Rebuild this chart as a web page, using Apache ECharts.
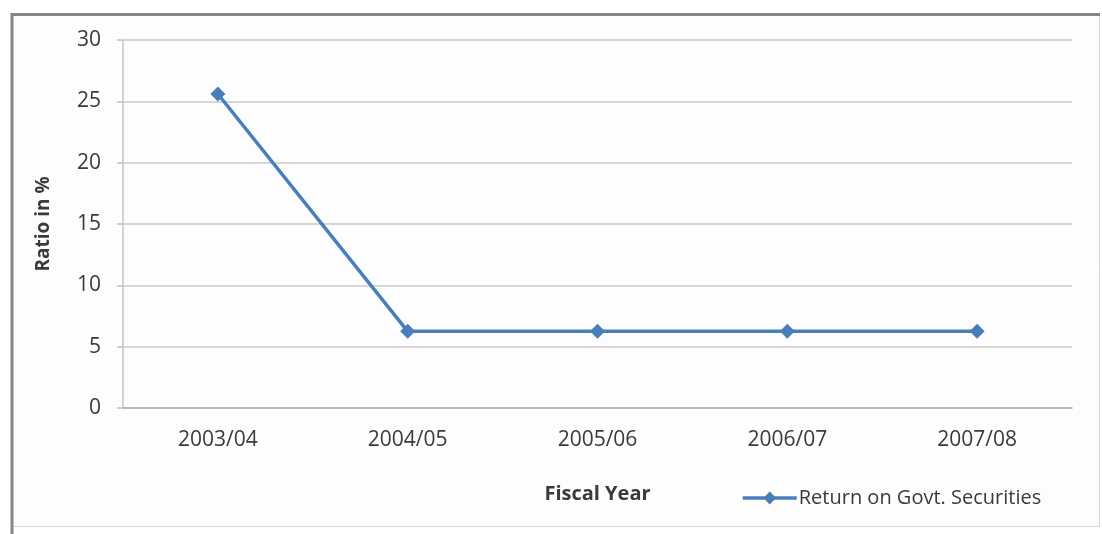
<!DOCTYPE html>
<html>
<head>
<meta charset="utf-8">
<title>Return on Govt. Securities</title>
<script src="https://cdn.jsdelivr.net/npm/echarts@6/dist/echarts.min.js"></script>
<style>
  html, body { margin: 0; padding: 0; background: #ffffff; }
  #chart { width: 1102px; height: 534px; }
</style>
</head>
<body>
<div id="chart"></div>
<script>
// Fiscal years on the category axis
const fiscalYears = ['2003/04', '2004/05', '2005/06', '2006/07', '2007/08'];
// Return on government securities, ratio in %
const returnOnGovtSecurities = [25.6, 6.25, 6.25, 6.25, 6.25];
// Value axis ticks
const yTicks = [0, 5, 10, 15, 20, 25, 30];

const textColor = '#3a3a3a';
const lineColor = '#4a7ebb';
const fontFamily = '"Open Sans", "Noto Sans", sans-serif';

const chart = echarts.init(document.getElementById('chart'), null, { renderer: 'canvas' });

chart.setOption({
  animation: false,
  backgroundColor: '#ffffff',
  textStyle: { fontFamily: fontFamily, color: textColor },
  graphic: [
    // chart frame: light outline with darker top and left edges
    {
      type: 'rect', z: -10,
      shape: { x: 12.5, y: 14.5, width: 1087, height: 512 },
      style: { fill: '#fdfdfd', stroke: '#d4d4d4', lineWidth: 1 }
    },
    {
      type: 'polyline', z: -9,
      shape: { points: [[12, 534], [12, 14.5], [1100, 14.5]] },
      style: { fill: null, stroke: '#858585', lineWidth: 3 }
    }
  ],
  grid: {
    left: 123,
    right: 30,
    top: 40,
    bottom: 126,
    containLabel: false
  },
  legend: {
    left: 736,
    top: 483,
    itemWidth: 54,
    itemHeight: 16,
    itemGap: 10,
    lineStyle: { width: 3.5 },
    textStyle: { fontSize: 20, color: textColor, fontFamily: fontFamily, padding: [0, 0, 0, -3] },
    data: ['Return on Govt. Securities']
  },
  xAxis: {
    type: 'category',
    data: fiscalYears,
    boundaryGap: true,
    name: 'Fiscal Year',
    nameLocation: 'middle',
    nameGap: 76,
    nameTextStyle: { fontSize: 20, fontWeight: 'bold', color: textColor, fontFamily: fontFamily },
    axisLine: { show: true, lineStyle: { color: '#b0b0b0', width: 1.5 } },
    axisTick: { show: false },
    axisLabel: { fontSize: 21, color: textColor, margin: 22, fontFamily: fontFamily },
    splitLine: { show: false }
  },
  yAxis: {
    type: 'value',
    min: yTicks[0],
    max: yTicks[yTicks.length - 1],
    interval: yTicks[1] - yTicks[0],
    name: 'Ratio in %',
    nameLocation: 'middle',
    nameGap: 70,
    nameRotate: 90,
    nameTextStyle: { fontSize: 19, fontWeight: 'bold', color: textColor, fontFamily: fontFamily },
    axisLine: { show: true, lineStyle: { color: '#c4c4c4', width: 1.5 } },
    axisTick: { show: true, length: 6, lineStyle: { color: '#c4c4c4', width: 1.5 } },
    axisLabel: { fontSize: 21, color: textColor, margin: 22, fontFamily: fontFamily },
    splitLine: { show: true, lineStyle: { color: '#c8c8c8', width: 1.5 } }
  },
  series: [
    {
      name: 'Return on Govt. Securities',
      type: 'line',
      data: returnOnGovtSecurities,
      symbol: 'diamond',
      symbolSize: 15,
      lineStyle: { color: lineColor, width: 3.5 },
      itemStyle: { color: lineColor },
      label: { show: false }
    }
  ]
});
</script>
</body>
</html>
